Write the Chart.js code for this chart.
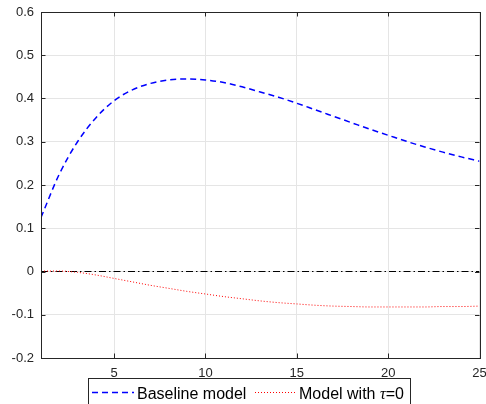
<!DOCTYPE html>
<html>
<head>
<meta charset="utf-8">
<script src="https://cdn.jsdelivr.net/npm/chart.js@4/dist/chart.umd.min.js"></script>
<style>
  html, body { margin: 0; padding: 0; background: #fff; }
  #wrap { width: 486px; height: 404px; position: relative; }
</style>
</head>
<body>
<div id="wrap"><canvas id="c" width="486" height="404"></canvas></div>
<script>
// ---- data ----
const periods = [1,2,3,4,5,6,7,8,9,10,11,12,13,14,15,16,17,18,19,20,21,22,23,24,25];
const baseline = [0.125,0.225,0.300,0.355,0.395,0.420,0.435,0.443,0.445,0.443,0.437,0.427,0.415,0.403,0.389,0.374,0.359,0.344,0.329,0.315,0.301,0.288,0.276,0.265,0.255];
const tauZero = [0.001,0.001,-0.002,-0.008,-0.016,-0.024,-0.032,-0.039,-0.046,-0.052,-0.058,-0.063,-0.068,-0.072,-0.075,-0.078,-0.080,-0.081,-0.082,-0.082,-0.082,-0.082,-0.081,-0.081,-0.080];
const zeroLineX = [1, 25];
const zeroLineY = [0, 0];
const xTicks = [5, 10, 15, 20, 25];
const yTicks = [-0.2, -0.1, 0, 0.1, 0.2, 0.3, 0.4, 0.5, 0.6];
const yTickLabels = ['-0.2', '-0.1', '0', '0.1', '0.2', '0.3', '0.4', '0.5', '0.6'];
const seriesNames = ['Baseline model', 'Model with ', '\u03C4', '=0'];

const toXY = (xs, ys) => xs.map((x, i) => ({x: x, y: ys[i]}));

const AXIS_COLOR = '#262626';
const GRID_COLOR = '#e5e5e5';

// inward tick marks + box (MATLAB style)
const boxTicks = {
  id: 'boxTicks',
  afterDatasetsDraw(chart) {
    const {ctx, chartArea: a, scales: {x, y}} = chart;
    ctx.save();
    ctx.strokeStyle = AXIS_COLOR;
    ctx.lineWidth = 1;
    ctx.setLineDash([]);
    ctx.beginPath();
    xTicks.forEach(v => {
      const px = Math.round(x.getPixelForValue(v)) + 0.5;
      ctx.moveTo(px, a.bottom); ctx.lineTo(px, a.bottom - 4.5);
      ctx.moveTo(px, a.top); ctx.lineTo(px, a.top + 4.5);
    });
    yTicks.forEach(v => {
      const py = Math.round(y.getPixelForValue(v)) + 0.5;
      ctx.moveTo(a.left, py); ctx.lineTo(a.left + 4.5, py);
      ctx.moveTo(a.right, py); ctx.lineTo(a.right - 4.5, py);
    });
    ctx.stroke();
    ctx.strokeRect(Math.round(a.left) + 0.5, Math.round(a.top) + 0.5,
                   Math.round(a.right - a.left), Math.round(a.bottom - a.top));
    ctx.restore();
  }
};

// boxed legend drawn below the axes
const boxLegend = {
  id: 'boxLegend',
  afterDraw(chart) {
    const ctx = chart.ctx;
    const ds = chart.data.datasets;
    ctx.save();
    ctx.strokeStyle = AXIS_COLOR;
    ctx.lineWidth = 1;
    ctx.setLineDash([]);
    ctx.fillStyle = '#fff';
    ctx.fillRect(88.5, 378.5, 322, 30);
    ctx.strokeRect(88.5, 378.5, 322, 30);
    const ly = 392.5, ty = 398.5;
    // sample 1
    ctx.strokeStyle = ds[0].borderColor;
    ctx.lineWidth = ds[0].borderWidth;
    ctx.setLineDash(ds[0].borderDash);
    ctx.beginPath(); ctx.moveTo(92, ly); ctx.lineTo(134, ly); ctx.stroke();
    // sample 2
    ctx.strokeStyle = ds[1].borderColor;
    ctx.lineWidth = ds[1].borderWidth;
    ctx.setLineDash(ds[1].borderDash);
    ctx.beginPath(); ctx.moveTo(255, ly); ctx.lineTo(296, ly); ctx.stroke();
    ctx.setLineDash([]);
    ctx.fillStyle = '#000';
    ctx.textBaseline = 'alphabetic';
    ctx.textAlign = 'left';
    ctx.font = '16px "Liberation Sans", Arial, sans-serif';
    ctx.fillText(seriesNames[0], 137, ty);
    let tx = 299;
    ctx.fillText(seriesNames[1], tx, ty);
    tx += ctx.measureText(seriesNames[1]).width;
    ctx.font = 'italic 16px "Liberation Serif", "Times New Roman", serif';
    ctx.fillText(seriesNames[2], tx, ty);
    tx += ctx.measureText(seriesNames[2]).width;
    ctx.font = '16px "Liberation Sans", Arial, sans-serif';
    ctx.fillText(seriesNames[3], tx, ty);
    ctx.restore();
  }
};

new Chart(document.getElementById('c'), {
  type: 'line',
  data: {
    datasets: [
      {
        label: 'Baseline model',
        data: toXY(periods, baseline),
        borderColor: '#0000ff',
        borderWidth: 1.5,
        borderDash: [6, 4],
        pointRadius: 0,
        fill: false,
        cubicInterpolationMode: 'monotone'
      },
      {
        label: 'Model with \u03C4=0',
        data: toXY(periods, tauZero),
        borderColor: '#ff0000',
        borderWidth: 1,
        borderDash: [1, 2],
        pointRadius: 0,
        fill: false,
        cubicInterpolationMode: 'monotone'
      },
      {
        label: 'zero',
        data: toXY(zeroLineX, zeroLineY),
        borderColor: '#000000',
        borderWidth: 1,
        borderDash: [7, 3, 1.5, 3],
        pointRadius: 0,
        fill: false
      }
    ]
  },
  options: {
    responsive: false,
    animation: false,
    devicePixelRatio: 1,
    layout: { padding: { top: 12, right: 6.5, left: 0, bottom: 0 } },
    plugins: {
      legend: { display: false },
      tooltip: { enabled: false }
    },
    scales: {
      x: {
        type: 'linear',
        min: 1,
        max: 25,
        afterBuildTicks: s => { s.ticks = xTicks.map(v => ({value: v})); },
        afterFit: s => { s.height = 46; s.paddingRight = 0; s.paddingLeft = 0; },
        grid: { color: GRID_COLOR, drawTicks: false, lineWidth: 1 },
        border: { display: false },
        ticks: {
          color: AXIS_COLOR,
          font: { family: '"Liberation Sans", Arial, sans-serif', size: 13 },
          padding: 8,
          maxRotation: 0,
          autoSkip: false,
          callback: v => String(v)
        }
      },
      y: {
        type: 'linear',
        min: -0.2,
        max: 0.6,
        afterBuildTicks: s => { s.ticks = yTicks.map(v => ({value: v})); },
        afterFit: s => { s.width = 41; s.paddingTop = 0; s.paddingBottom = 0; },
        grid: { color: GRID_COLOR, drawTicks: false, lineWidth: 1 },
        border: { display: false },
        ticks: {
          color: AXIS_COLOR,
          font: { family: '"Liberation Sans", Arial, sans-serif', size: 13 },
          padding: 7,
          autoSkip: false,
          callback: (v, i) => yTickLabels[i]
        }
      }
    }
  },
  plugins: [boxTicks, boxLegend]
});
</script>
</body>
</html>
